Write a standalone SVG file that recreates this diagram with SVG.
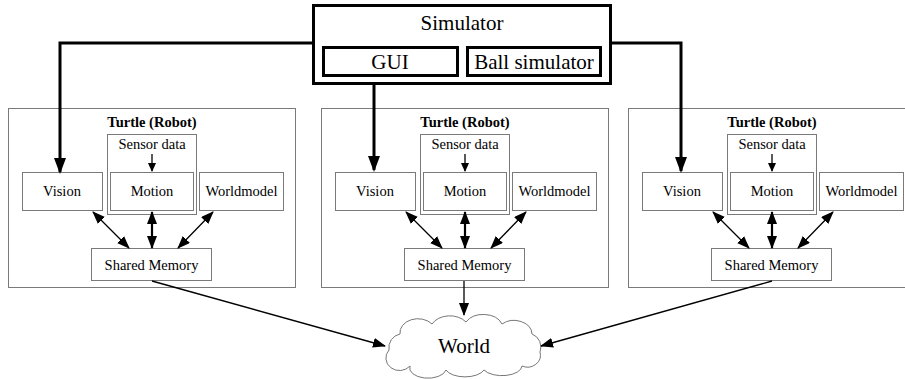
<svg xmlns="http://www.w3.org/2000/svg" width="905" height="379" viewBox="0 0 905 379" font-family="Liberation Serif">
<defs>
  <marker id="big" markerUnits="userSpaceOnUse" markerWidth="16" markerHeight="12" refX="14" refY="6" orient="auto">
    <path d="M0,0 L16,6 L0,12 Z" fill="#000"/>
  </marker>
  <marker id="ah" markerUnits="userSpaceOnUse" markerWidth="13" markerHeight="10" refX="12" refY="5" orient="auto">
    <path d="M0,0 L13,5 L0,10 Z" fill="#000"/>
  </marker>
  <marker id="ahs" markerUnits="userSpaceOnUse" markerWidth="13" markerHeight="10" refX="1" refY="5" orient="auto">
    <path d="M13,0 L0,5 L13,10 Z" fill="#000"/>
  </marker>
  <marker id="sm" markerUnits="userSpaceOnUse" markerWidth="9" markerHeight="8" refX="8" refY="4" orient="auto">
    <path d="M0,0 L9,4 L0,8 Z" fill="#000"/>
  </marker>
</defs>

<g id="simulator">
  <g fill="#fff" stroke="#000" stroke-width="3">
    <rect x="313.5" y="5.5" width="297" height="78"/>
    <rect x="323.5" y="47.5" width="134" height="28"/>
    <rect x="467.5" y="47.5" width="133" height="28"/>
  </g>
  <g font-family="Liberation Serif" font-size="21" text-anchor="middle" fill="#000">
    <text x="462" y="30">Simulator</text>
    <text x="390" y="69">GUI</text>
    <text x="534" y="69">Ball simulator</text>
  </g>
</g>

<g id="turtle-left">
  <g fill="#fff" stroke="#7a7a7a" stroke-width="1">
    <rect x="8.5" y="108.5" width="287" height="179"/>
    <rect x="107.5" y="134.5" width="89" height="80"/>
    <rect x="110.5" y="172.5" width="83" height="38"/>
    <rect x="22.5" y="172.5" width="80" height="38"/>
    <rect x="199.5" y="172.5" width="84" height="38"/>
    <rect x="91.5" y="248.5" width="120" height="32"/>
  </g>
  <g font-family="Liberation Serif" font-size="14.5" text-anchor="middle" fill="#000">
    <text font-weight="bold" x="152" y="127">Turtle (Robot)</text>
    <text x="152" y="149">Sensor data</text>
    <text x="152" y="196">Motion</text>
    <text x="62" y="196">Vision</text>
    <text x="241.5" y="196">Worldmodel</text>
    <text x="151.5" y="270">Shared Memory</text>
  </g>
</g>

<g id="turtle-middle" transform="translate(313,0)">
  <g fill="#fff" stroke="#7a7a7a" stroke-width="1">
    <rect x="8.5" y="108.5" width="287" height="179"/>
    <rect x="107.5" y="134.5" width="89" height="80"/>
    <rect x="110.5" y="172.5" width="83" height="38"/>
    <rect x="22.5" y="172.5" width="80" height="38"/>
    <rect x="199.5" y="172.5" width="84" height="38"/>
    <rect x="91.5" y="248.5" width="120" height="32"/>
  </g>
  <g font-family="Liberation Serif" font-size="14.5" text-anchor="middle" fill="#000">
    <text font-weight="bold" x="152" y="127">Turtle (Robot)</text>
    <text x="152" y="149">Sensor data</text>
    <text x="152" y="196">Motion</text>
    <text x="62" y="196">Vision</text>
    <text x="241.5" y="196">Worldmodel</text>
    <text x="151.5" y="270">Shared Memory</text>
  </g>
</g>

<g id="turtle-right" transform="translate(620,0)">
  <g fill="#fff" stroke="#7a7a7a" stroke-width="1">
    <rect x="8.5" y="108.5" width="287" height="179"/>
    <rect x="107.5" y="134.5" width="89" height="80"/>
    <rect x="110.5" y="172.5" width="83" height="38"/>
    <rect x="22.5" y="172.5" width="80" height="38"/>
    <rect x="199.5" y="172.5" width="84" height="38"/>
    <rect x="91.5" y="248.5" width="120" height="32"/>
  </g>
  <g font-family="Liberation Serif" font-size="14.5" text-anchor="middle" fill="#000">
    <text font-weight="bold" x="152" y="127">Turtle (Robot)</text>
    <text x="152" y="149">Sensor data</text>
    <text x="152" y="196">Motion</text>
    <text x="62" y="196">Vision</text>
    <text x="241.5" y="196">Worldmodel</text>
    <text x="151.5" y="270">Shared Memory</text>
  </g>
</g>

<g id="world">
  <path d="M400 334 A18 14 0 0 1 432 324 A20 15 0 0 1 466 322 A20 15 0 0 1 502 324 A18 14 0 0 1 532 334 A14 14 0 0 1 540 352 A13 12 0 0 1 522 366 A20 10 0 0 1 484 370 A20 10 0 0 1 446 370 A18 10 0 0 1 410 366 A13 12 0 0 1 389 350 A14 14 0 0 1 400 334 Z" fill="#fff" stroke="#777" stroke-width="1"/>
  <text font-family="Liberation Serif" font-size="21" text-anchor="middle" fill="#000" x="464" y="353">World</text>
</g>

<g id="connectors" fill="none" stroke="#000">
  <polyline stroke-width="3" points="313,43 60,43 60,172" marker-end="url(#big)"/>
  <line stroke-width="3" x1="374" y1="84" x2="374" y2="170" marker-end="url(#big)"/>
  <polyline stroke-width="3" points="611,43 681,43 681,171" marker-end="url(#big)"/>
  <g>
    <line stroke-width="1.3" x1="152" y1="154" x2="152" y2="171" marker-end="url(#sm)"/>
    <line stroke-width="1.3" x1="93" y1="212" x2="129" y2="248" marker-start="url(#ahs)" marker-end="url(#ah)"/>
    <line stroke-width="2.2" x1="152" y1="212" x2="152" y2="248" marker-start="url(#ahs)" marker-end="url(#ah)"/>
    <line stroke-width="1.3" x1="213" y1="212" x2="178" y2="248" marker-start="url(#ahs)" marker-end="url(#ah)"/>
  </g>
  <g transform="translate(313,0)">
    <line stroke-width="1.3" x1="152" y1="154" x2="152" y2="171" marker-end="url(#sm)"/>
    <line stroke-width="1.3" x1="93" y1="212" x2="129" y2="248" marker-start="url(#ahs)" marker-end="url(#ah)"/>
    <line stroke-width="2.2" x1="152" y1="212" x2="152" y2="248" marker-start="url(#ahs)" marker-end="url(#ah)"/>
    <line stroke-width="1.3" x1="213" y1="212" x2="178" y2="248" marker-start="url(#ahs)" marker-end="url(#ah)"/>
  </g>
  <g transform="translate(620,0)">
    <line stroke-width="1.3" x1="152" y1="154" x2="152" y2="171" marker-end="url(#sm)"/>
    <line stroke-width="1.3" x1="93" y1="212" x2="129" y2="248" marker-start="url(#ahs)" marker-end="url(#ah)"/>
    <line stroke-width="2.2" x1="152" y1="212" x2="152" y2="248" marker-start="url(#ahs)" marker-end="url(#ah)"/>
    <line stroke-width="1.3" x1="213" y1="212" x2="178" y2="248" marker-start="url(#ahs)" marker-end="url(#ah)"/>
  </g>
  <line stroke-width="1.3" x1="152" y1="281" x2="385" y2="346" marker-end="url(#ah)"/>
  <line stroke-width="1.3" x1="464" y1="281" x2="464" y2="315" marker-end="url(#ah)"/>
  <line stroke-width="1.3" x1="772" y1="281" x2="541" y2="346" marker-end="url(#ah)"/>
</g>
</svg>
